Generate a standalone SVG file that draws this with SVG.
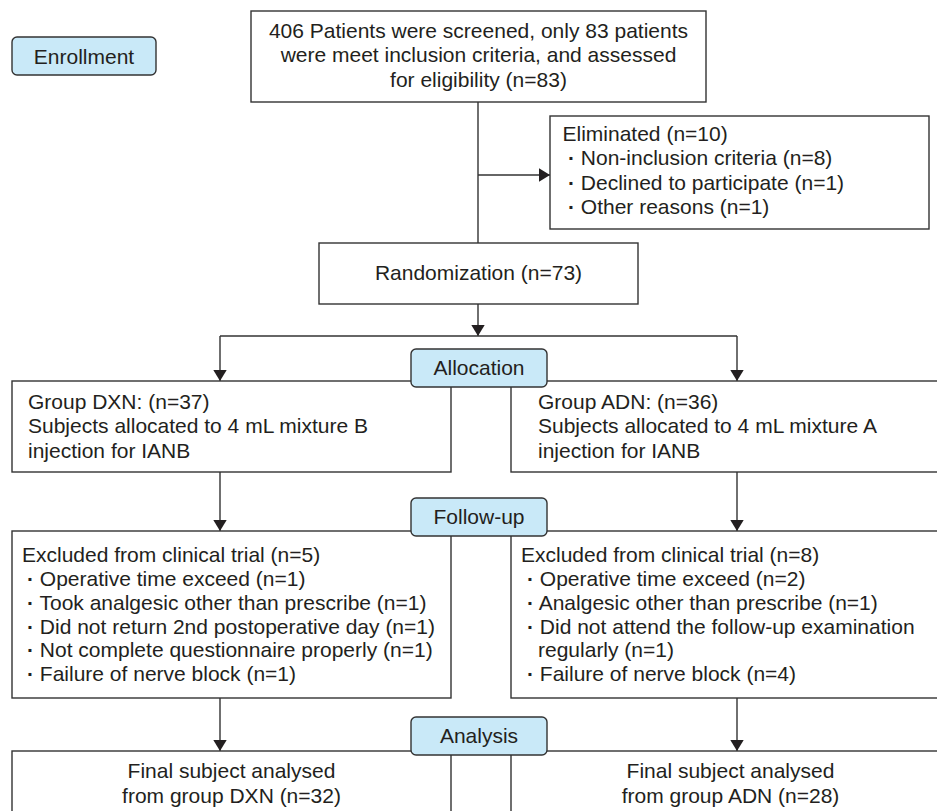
<svg xmlns="http://www.w3.org/2000/svg" width="937" height="811" viewBox="0 0 937 811">
<style>
text{font-family:"Liberation Sans",Arial,sans-serif;font-size:21px;fill:#231f20}
.box{fill:#fff;stroke:#333;stroke-width:1.4}
.lab{fill:#c9e9f8;stroke:#333;stroke-width:1.4}
.c{text-anchor:middle}
.ln{fill:none;stroke:#333;stroke-width:1.4}
.d{font-weight:bold}
</style>
<defs>
<marker id="ah" markerUnits="userSpaceOnUse" markerWidth="13" markerHeight="15" refX="11.5" refY="7" orient="auto">
<path d="M0,0 L11.5,7 L0,14 Z" fill="#231f20"/>
</marker>
</defs>
<rect width="937" height="811" fill="#fff"/>
<g id="connectors">
<path class="ln" d="M478,102 V243"/>
<path class="ln" d="M478,175 H550" marker-end="url(#ah)"/>
<path class="ln" d="M478,304 V336" marker-end="url(#ah)"/>
<path class="ln" d="M220,336 H737"/>
<path class="ln" d="M220,336 V381" marker-end="url(#ah)"/>
<path class="ln" d="M737,336 V381" marker-end="url(#ah)"/>
<path class="ln" d="M220,472 V531" marker-end="url(#ah)"/>
<path class="ln" d="M737,472 V531" marker-end="url(#ah)"/>
<path class="ln" d="M220,698 V751" marker-end="url(#ah)"/>
<path class="ln" d="M737,698 V751" marker-end="url(#ah)"/>
</g>
<g id="enrollment">
<rect class="lab" x="12" y="37" width="144" height="38" rx="5"/>
<text class="c" x="84" y="63.5">Enrollment</text>
</g>
<g id="screened">
<rect class="box" x="251" y="11" width="455" height="91"/>
<text class="c" x="478.5" y="37.5">406 Patients were screened, only 83 patients</text>
<text class="c" x="478.5" y="62">were meet inclusion criteria, and assessed</text>
<text class="c" x="478.5" y="86.5">for eligibility (n=83)</text>
</g>
<g id="eliminated">
<rect class="box" x="550" y="116" width="379" height="113"/>
<text x="562.5" y="140.5">Eliminated (n=10)</text>
<text x="568" y="165"><tspan class="d">·</tspan> Non-inclusion criteria (n=8)</text>
<text x="568" y="189.5"><tspan class="d">·</tspan> Declined to participate (n=1)</text>
<text x="568" y="214"><tspan class="d">·</tspan> Other reasons (n=1)</text>
</g>
<g id="randomization">
<rect class="box" x="319" y="243" width="319" height="61"/>
<text class="c" x="478.5" y="280">Randomization (n=73)</text>
</g>
<g id="group-dxn">
<rect class="box" x="12" y="381" width="439" height="91"/>
<text x="28" y="408.5">Group DXN: (n=37)</text>
<text x="28" y="433">Subjects allocated to 4 mL mixture B</text>
<text x="28" y="457.5">injection for IANB</text>
</g>
<g id="group-adn">
<rect class="box" x="511" y="381" width="439" height="91"/>
<text x="538" y="408.5">Group ADN: (n=36)</text>
<text x="538" y="433">Subjects allocated to 4 mL mixture A</text>
<text x="538" y="457.5">injection for IANB</text>
</g>
<g id="allocation">
<rect class="lab" x="411" y="349" width="136" height="38" rx="5"/>
<text class="c" x="479" y="375">Allocation</text>
</g>
<g id="excluded-dxn">
<rect class="box" x="12" y="531" width="439" height="167"/>
<text x="22" y="561.5">Excluded from clinical trial (n=5)</text>
<text x="27" y="585.5"><tspan class="d">·</tspan> Operative time exceed (n=1)</text>
<text x="27" y="609.5"><tspan class="d">·</tspan> Took analgesic other than prescribe (n=1)</text>
<text x="27" y="633.5"><tspan class="d">·</tspan> Did not return 2nd postoperative day (n=1)</text>
<text x="27" y="657"><tspan class="d">·</tspan> Not complete questionnaire properly (n=1)</text>
<text x="27" y="680.5"><tspan class="d">·</tspan> Failure of nerve block (n=1)</text>
</g>
<g id="excluded-adn">
<rect class="box" x="511" y="531" width="439" height="167"/>
<text x="521" y="561.5">Excluded from clinical trial (n=8)</text>
<text x="527" y="585.5"><tspan class="d">·</tspan> Operative time exceed (n=2)</text>
<text x="527" y="609.5"><tspan class="d">·</tspan> Analgesic other than prescribe (n=1)</text>
<text x="527" y="633.5"><tspan class="d">·</tspan> Did not attend the follow-up examination</text>
<text x="538" y="657">regularly (n=1)</text>
<text x="527" y="680.5"><tspan class="d">·</tspan> Failure of nerve block (n=4)</text>
</g>
<g id="follow-up">
<rect class="lab" x="411" y="498" width="136" height="38" rx="5"/>
<text class="c" x="479" y="524">Follow-up</text>
</g>
<g id="final-dxn">
<rect class="box" x="12" y="751" width="439" height="80"/>
<text class="c" x="231.5" y="778">Final subject analysed</text>
<text class="c" x="231.5" y="802.5">from group DXN (n=32)</text>
</g>
<g id="final-adn">
<rect class="box" x="511" y="751" width="439" height="80"/>
<text class="c" x="730.5" y="778">Final subject analysed</text>
<text class="c" x="730.5" y="802.5">from group ADN (n=28)</text>
</g>
<g id="analysis">
<rect class="lab" x="411" y="717" width="136" height="38" rx="5"/>
<text class="c" x="479" y="743">Analysis</text>
</g>
</svg>
